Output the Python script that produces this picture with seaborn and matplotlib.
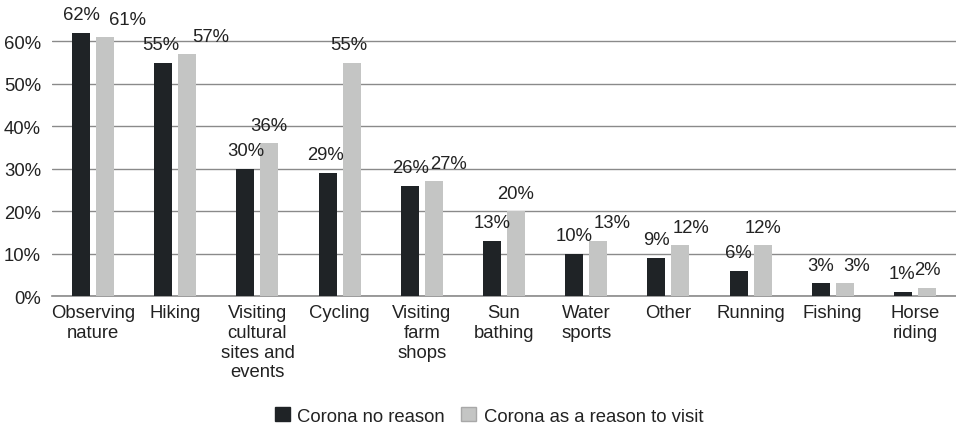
import matplotlib
matplotlib.use("Agg")
import matplotlib.pyplot as plt
import seaborn as sns
import pandas as pd
from matplotlib.patches import Patch

categories = ["Observing\nnature", "Hiking", "Visiting\ncultural\nsites and\nevents",
              "Cycling", "Visiting\nfarm\nshops", "Sun\nbathing", "Water\nsports",
              "Other", "Running", "Fishing", "Horse\nriding"]
no_reason = [62, 55, 30, 29, 26, 13, 10, 9, 6, 3, 1]
as_reason = [61, 57, 36, 55, 27, 20, 13, 12, 12, 3, 2]
series = ["Corona no reason", "Corona as a reason to visit"]
y_ticks = [0, 10, 20, 30, 40, 50, 60]

# horizontal nudges (pixels) that keep neighbouring value labels apart
nudge_dark = [0, -3, 0, -2, 1, 0, 0, 0, 0, 0, -1]
nudge_light = [22, 23, -1, -3, 15, 0, 14, 11, 0, 12, 0]

dark = "#1f2326"
light = "#c4c5c4"
text_col = "#222222"

df = pd.DataFrame({
    "activity": categories * 2,
    "share": no_reason + as_reason,
    "group": [series[0]] * len(categories) + [series[1]] * len(categories),
})

sns.set_theme(style="white")
plt.rcParams["font.family"] = ["Liberation Sans", "DejaVu Sans"]
fs = 13.3

fig = plt.figure(figsize=(9.56, 4.27), dpi=100)
ax = fig.add_axes([52 / 956, 130 / 427, 1 - 52 / 956, 297 / 427])

sns.barplot(data=df, x="activity", y="share", hue="group", hue_order=series,
            palette=[dark, light], width=0.584, gap=0.25, saturation=1,
            linewidth=0, ax=ax, legend=False)

ax.set_xlim(-0.5, len(categories) - 0.5)
ax.set_ylim(0, 70)
ax.set_yticks(y_ticks)
ax.set_yticklabels([f"{t}%" for t in y_ticks], fontsize=fs, color=text_col)
ax.tick_params(axis="y", length=0, pad=8)
ax.tick_params(axis="x", length=0, pad=6)
ax.set_xticks(range(len(categories)))
ax.set_xticklabels(categories, fontsize=fs, color=text_col, linespacing=1.2)
ax.set_xlabel("")
ax.set_ylabel("")
ax.grid(axis="y", color="#8a8a8a", linewidth=1.0)
ax.set_axisbelow(True)
for s in ["top", "right", "left"]:
    ax.spines[s].set_visible(False)
ax.spines["bottom"].set_color("#8a8a8a")
ax.spines["bottom"].set_linewidth(1.2)
ax.spines["bottom"].set_zorder(0.5)

for container, vals, nudges in zip(ax.containers, [no_reason, as_reason],
                                   [nudge_dark, nudge_light]):
    for bar, v, dx in zip(container, vals, nudges):
        cx = bar.get_x() + bar.get_width() / 2
        ax.annotate(f"{v}%", xy=(cx, bar.get_height()), xytext=(dx, 18),
                    textcoords="offset pixels", ha="center", va="center",
                    fontsize=fs, color=text_col, annotation_clip=False)

handles = [Patch(facecolor=dark, edgecolor=dark, label=series[0]),
           Patch(facecolor=light, edgecolor="#a8a8a8", label=series[1])]
fig.legend(handles=handles, loc="center", bbox_to_anchor=(489 / 956, 10 / 427),
           ncol=2, frameon=False, fontsize=fs, handlelength=0.8, handleheight=0.8,
           handletextpad=0.4, columnspacing=0.9, labelcolor=text_col)

fig.savefig("out.png", dpi=100)
